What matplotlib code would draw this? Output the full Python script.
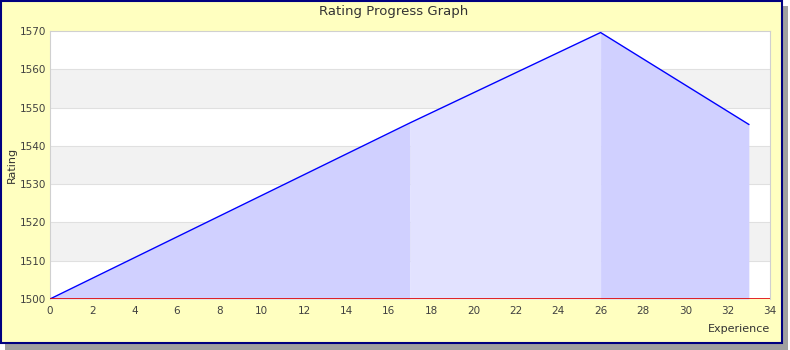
import matplotlib
matplotlib.use("Agg")
from matplotlib import pyplot as plt
from matplotlib.patches import Rectangle

# rating history
experience = [0, 17, 26, 33]
rating = [1500, 1546, 1569.6, 1545.6]
# fill shade for each segment
seg_colors = ['#d0d0ff', '#e2e2ff', '#d0d0ff']
yticks = [1500, 1510, 1520, 1530, 1540, 1550, 1560, 1570]
xticks = list(range(0, 35, 2))

W, H = 790, 350
fig = plt.figure(figsize=(W / 100, H / 100), dpi=100)
fig.patch.set_facecolor('white')

# shadow + frame
fig.patches.append(Rectangle((5 / W, 0), 783 / W, 344 / H, transform=fig.transFigure,
                             facecolor='#a0a0a0', edgecolor='none', zorder=0))
fig.patches.append(Rectangle((1 / W, 7 / H), 781 / W, 342 / H, transform=fig.transFigure,
                             facecolor='#ffffc0', edgecolor='#000080', linewidth=1.5, zorder=1))

ax = fig.add_axes([50 / W, 51 / H, 720 / W, 268 / H])
ax.set_zorder(2)
ax.set_facecolor('white')
ax.set_xlim(0, 34)
ax.set_ylim(1500, 1570)

# alternating bands
for i, y0 in enumerate(yticks[:-1]):
    if i % 2 == 1:
        ax.axhspan(y0, y0 + 10, color='#f2f2f2', zorder=0, lw=0)
    ax.axhline(y0, color='#e0e0e0', lw=0.8, zorder=0.5)

for i in range(len(experience) - 1):
    ax.fill_between(experience[i:i + 2], rating[i:i + 2], 1500,
                    color=seg_colors[i], lw=0, zorder=1)
ax.plot(experience, rating, color='#0000ff', lw=1, zorder=3)
ax.axhline(1500, color='#e00000', lw=1.2, zorder=4)

for s in ax.spines.values():
    s.set_color('#d0d0d0')
ax.spines['bottom'].set_visible(False)

ax.set_xticks(xticks)
ax.set_yticks(yticks)
ax.tick_params(length=0, labelsize=7.5, colors='#404040')
ax.tick_params(axis='y', pad=3)
ax.tick_params(axis='x', pad=5)

fig.text(394 / W, 1 - 11 / H, 'Rating Progress Graph', ha='center', va='center',
         fontsize=9.5, color='#333333', zorder=5)
fig.text(12 / W, 1 - 165 / H, 'Rating', rotation=90, ha='center', va='center',
         fontsize=8, color='#333333', zorder=5)
fig.text(770 / W, 1 - 329 / H, 'Experience', ha='right', va='center',
         fontsize=8, color='#333333', zorder=5)

fig.savefig('out.png', dpi=100)
